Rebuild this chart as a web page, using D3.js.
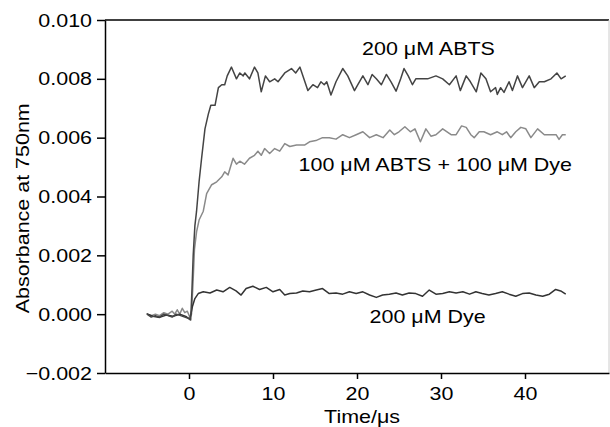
<!DOCTYPE html>
<html lang="en">
<head>
<meta charset="UTF-8">
<title>Absorbance at 750nm</title>
<style>
    body { margin: 0; background: #fff; }
    svg text { font-family: "Liberation Sans", Arial, sans-serif; fill: #000; }
    .axis text { font-size: 19px; }
    .axis path, .axis line { stroke: #000; stroke-width: 1.5; }
    .trace { fill: none; stroke-width: 1.5; stroke-linejoin: round; }
</style>
</head>
<body>
<svg width="610" height="427"></svg>
<script src="https://d3js.org/d3.v7.min.js"></script>
<script>
// time (µs), absorbance
var abts200 = [
    [-5.0, 0.0000], [-4.5, -0.0001], [-4.0, -0.00005], [-3.5, -0.0001], [-3.0, 0.0000],
    [-2.5, -0.00005], [-2.0, -0.0001], [-1.5, 0.0000], [-1.0, -0.00005], [-0.5, -0.0001],
    [0.0, -0.00015], [0.2, -0.0002], [0.35, 0.0008], [0.5, 0.0020], [0.7, 0.0030],
    [0.9, 0.0035], [1.2, 0.0045], [1.5, 0.0053], [1.9, 0.0063], [2.3, 0.0068],
    [2.6, 0.0071], [3.1, 0.0071], [3.5, 0.0077], [3.9, 0.0078], [4.25, 0.0078],
    [4.55, 0.0081], [5.05, 0.0084], [5.65, 0.0080], [6.05, 0.0082], [6.45, 0.0081],
    [6.65, 0.0082], [7.2, 0.0080], [7.8, 0.0084], [8.2, 0.0082], [8.6, 0.00756],
    [9.1, 0.0081], [9.6, 0.0079], [10.2, 0.0080], [10.6, 0.0079], [11.4, 0.0082],
    [12.2, 0.00835], [12.7, 0.0082], [13.2, 0.0084], [14.15, 0.0076], [14.75, 0.0078],
    [15.3, 0.0077], [15.7, 0.0079], [16.1, 0.0078], [16.4, 0.0079], [16.9, 0.00745],
    [17.5, 0.0079], [18.3, 0.00835], [18.9, 0.0081], [19.7, 0.0076], [20.1, 0.0078],
    [20.7, 0.0081], [21.3, 0.0078], [21.8, 0.00815], [22.3, 0.0080], [22.9, 0.0078],
    [23.5, 0.00815], [24.05, 0.0079], [24.65, 0.00758], [25.2, 0.0080], [25.6, 0.00835],
    [26.1, 0.0081], [26.6, 0.0078], [27.0, 0.0080], [27.6, 0.0080], [28.4, 0.0080],
    [29.4, 0.0081], [30.2, 0.0080], [31.0, 0.0078], [31.8, 0.0081], [32.3, 0.0076],
    [33.0, 0.0081], [33.5, 0.0079], [34.2, 0.00756], [34.75, 0.0082], [35.35, 0.0080],
    [35.9, 0.00756], [36.5, 0.0077], [36.7, 0.00747], [37.1, 0.0077], [37.5, 0.00754],
    [38.1, 0.0079], [38.5, 0.0076], [39.1, 0.0081], [39.7, 0.0077], [40.5, 0.0081],
    [41.1, 0.0077], [41.7, 0.0079], [42.3, 0.0079], [43.1, 0.0080], [43.8, 0.0082],
    [44.3, 0.0080], [44.85, 0.0081]
];

var abtsDye100 = [
    [-5.0, 0.0000], [-4.5, -0.00005], [-4.0, 0.0000], [-3.5, -0.00005], [-3.0, 0.00005],
    [-2.5, 0.0000], [-2.0, 0.0001], [-1.7, 0.0000], [-1.4, 0.00015], [-1.1, 0.0000],
    [-0.8, 0.0002], [-0.5, 0.00005], [-0.2, 0.0001], [0.1, -0.0001], [0.3, 0.0000],
    [0.5, 0.0012], [0.65, 0.0022], [0.9, 0.0028], [1.2, 0.0032], [1.7, 0.0035],
    [2.1, 0.0041], [2.7, 0.0044], [3.3, 0.0045], [3.9, 0.00467], [4.25, 0.00484],
    [4.65, 0.00473], [5.25, 0.0053], [5.65, 0.0051], [6.05, 0.0052], [6.6, 0.0051],
    [7.2, 0.0053], [7.8, 0.0054], [8.2, 0.00554], [8.6, 0.0054], [9.0, 0.00563],
    [9.6, 0.00546], [10.2, 0.00563], [10.8, 0.00554], [11.4, 0.0058], [12.0, 0.0057],
    [12.8, 0.00575], [13.75, 0.00575], [14.35, 0.00586], [15.1, 0.0059], [15.9, 0.0060],
    [16.7, 0.0060], [17.5, 0.00595], [18.3, 0.0061], [19.1, 0.0060], [19.9, 0.0061],
    [20.7, 0.0062], [21.5, 0.0060], [22.3, 0.0061], [23.1, 0.0060], [23.9, 0.00626],
    [24.45, 0.0061], [25.0, 0.0062], [25.7, 0.00637], [26.35, 0.0062], [26.9, 0.0063],
    [27.55, 0.00586], [28.2, 0.0063], [28.8, 0.00605], [29.4, 0.0061], [30.2, 0.0063],
    [31.2, 0.0061], [31.8, 0.0061], [32.45, 0.0064], [33.0, 0.00635], [33.55, 0.0061],
    [33.95, 0.0060], [34.55, 0.0062], [35.1, 0.0062], [35.9, 0.0061], [36.7, 0.0062],
    [37.3, 0.0061], [37.8, 0.0062], [38.3, 0.0060], [38.9, 0.0062], [39.5, 0.00635],
    [40.1, 0.0063], [40.7, 0.0060], [41.5, 0.0063], [42.3, 0.0061], [43.1, 0.0061],
    [43.7, 0.0061], [44.05, 0.00594], [44.45, 0.0061], [44.85, 0.0061]
];

var dye200 = [
    [-5.05, 0.00002], [-4.3, -0.00007], [-3.5, -0.00011], [-2.7, -0.00003], [-1.9, -0.00007],
    [-1.1, 0.0000], [-0.3, -0.00009], [0.1, -0.00018], [0.4, 0.00025], [0.7, 0.00053],
    [1.1, 0.0007], [1.7, 0.00076], [2.5, 0.00072], [3.3, 0.00082], [4.05, 0.00076],
    [4.85, 0.00091], [5.6, 0.00079], [6.2, 0.00065], [6.8, 0.00087], [7.6, 0.00095],
    [8.4, 0.00084], [9.2, 0.00091], [10.0, 0.00076], [10.8, 0.00084], [11.4, 0.00065],
    [12.0, 0.0007], [12.8, 0.00072], [13.55, 0.00079], [14.35, 0.00076], [15.15, 0.00082],
    [15.9, 0.00087], [16.7, 0.0007], [17.5, 0.00072], [18.3, 0.00068], [19.1, 0.00076],
    [19.9, 0.0007], [20.7, 0.00076], [21.5, 0.00065], [22.3, 0.00057], [23.05, 0.00065],
    [23.85, 0.00068], [24.65, 0.00072], [25.4, 0.00065], [26.2, 0.00072], [27.0, 0.0007],
    [27.8, 0.00061], [28.6, 0.00082], [29.4, 0.00068], [30.2, 0.0007], [31.0, 0.00076],
    [31.8, 0.00072], [32.6, 0.00076], [33.4, 0.00068], [34.15, 0.00076], [34.9, 0.0007],
    [35.7, 0.00065], [36.5, 0.0007], [37.3, 0.00076], [38.1, 0.00068], [38.9, 0.00061],
    [39.7, 0.0007], [40.5, 0.00072], [41.3, 0.00065], [42.1, 0.00061], [42.9, 0.00068],
    [43.65, 0.00084], [44.25, 0.00079], [44.85, 0.00068]
];

var xTicks = [0, 10, 20, 30, 40];
var yTicks = [-0.002, 0, 0.002, 0.004, 0.006, 0.008, 0.010];
var labels = ["200 \u03BCM ABTS", "100 \u03BCM ABTS + 100 \u03BCM Dye", "200 \u03BCM Dye"];

var svg = d3.select("svg"),
    margin = {top: 20, right: 1, bottom: 54, left: 105},
    width = +svg.attr("width") - margin.left - margin.right,
    height = +svg.attr("height") - margin.top - margin.bottom;

// the original lettering is a little wider than Liberation Sans
var sx = 1.13;

var x = d3.scaleLinear().domain([-10, 50]).range([0, width]);
var y = d3.scaleLinear().domain([-0.002, 0.010]).range([height, 0]);

var g = svg.append("g")
    .attr("transform", "translate(" + margin.left + "," + margin.top + ")");

// frame: top black, right light grey
g.append("line").attr("x1", 0).attr("x2", width).attr("y1", 0).attr("y2", 0)
    .attr("stroke", "#000").attr("stroke-width", 1.5);
g.append("line").attr("x1", width).attr("x2", width).attr("y1", 0).attr("y2", height)
    .attr("stroke", "#ccc").attr("stroke-width", 1);

g.append("g")
    .attr("class", "x axis")
    .attr("transform", "translate(0," + height + ")")
    .call(d3.axisBottom(x).tickValues(xTicks).tickSize(6).tickSizeOuter(0).tickPadding(8)
        .tickFormat(d3.format("d")))
    .selectAll("text").attr("transform", "scale(" + sx + ",1)");

g.append("g")
    .attr("class", "y axis")
    .call(d3.axisLeft(y).tickValues(yTicks).tickSize(8).tickSizeOuter(0).tickPadding(5)
        .tickFormat(d3.format(".3f")))
    .selectAll("text")
        .attr("x", function() { return +this.getAttribute("x") / sx; })
        .attr("transform", "scale(" + sx + ",1)");

var line = d3.line()
    .x(function(d) { return x(d[0]); })
    .y(function(d) { return y(d[1]); });

g.append("path").datum(abtsDye100).attr("class", "trace").attr("stroke", "#8a8a8a").attr("d", line);
g.append("path").datum(dye200).attr("class", "trace").attr("stroke", "#333").attr("d", line);
g.append("path").datum(abts200).attr("class", "trace").attr("stroke", "#444").attr("d", line);

function label(px, py, txt, anchor, rot) {
    svg.append("text")
        .attr("transform", "translate(" + px + "," + py + ")" + (rot ? " rotate(" + rot + ")" : "") +
            " scale(" + sx + ",1)")
        .attr("text-anchor", anchor || "start")
        .style("font-size", "19px")
        .text(txt);
}

// annotations
label(margin.left + x(20.6), margin.top + y(0.0088), labels[0]);
label(margin.left + x(45.6), margin.top + y(0.00485), labels[1], "end");
label(margin.left + x(21.5), margin.top + y(-0.0003), labels[2]);

// axis titles
label(margin.left + x(20.6), 423, "Time/\u03BCs", "middle");
label(29, margin.top + y(0.0036), "Absorbance at 750nm", "middle", -90);
</script>
</body>
</html>
